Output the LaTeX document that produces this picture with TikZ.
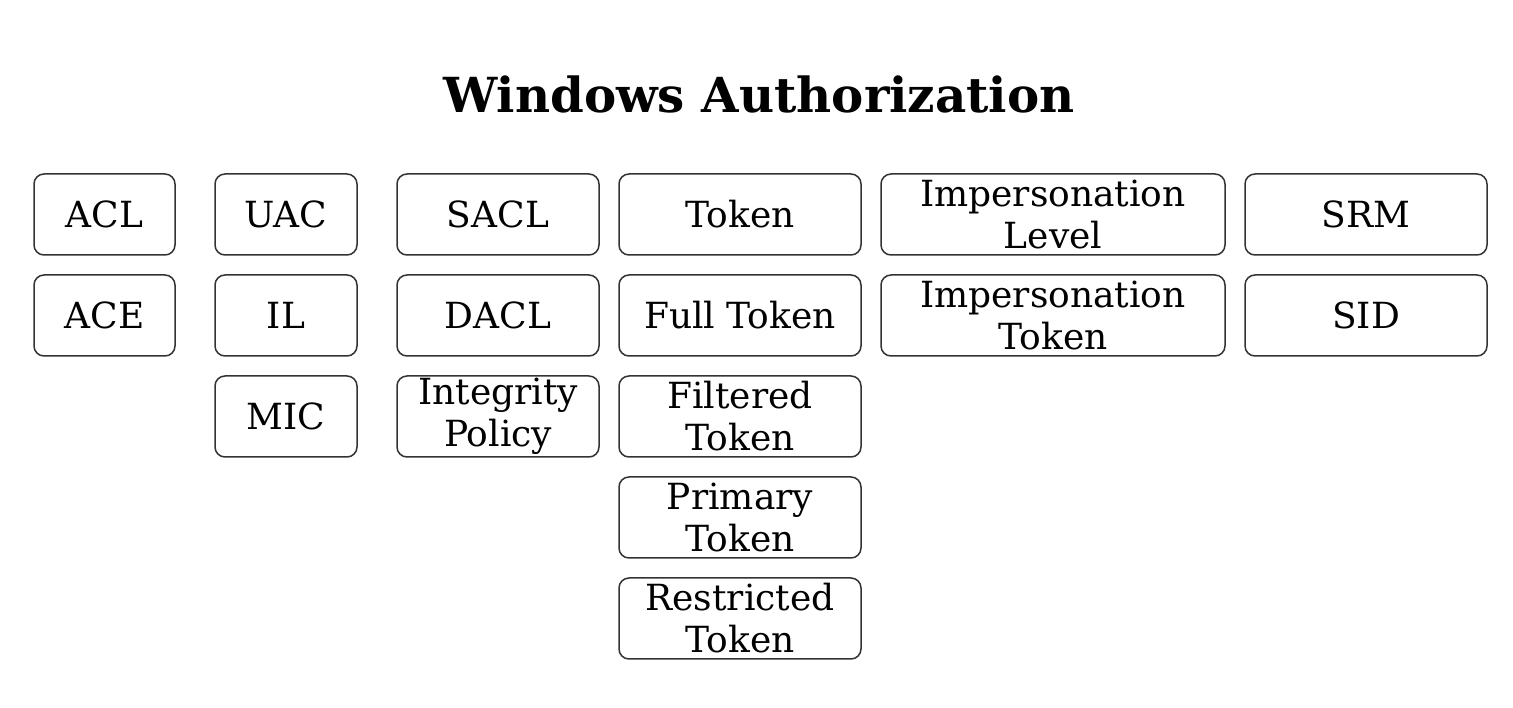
\documentclass[tikz,border=0pt]{standalone}
\usepackage{fontspec}
\setmainfont{DejaVu Serif}
\begin{document}
\begin{tikzpicture}[x=1pt,y=1pt,
  item/.style={draw=black!80, line width=1.5pt, rounded corners=10pt, inner sep=0pt,
    minimum height=81pt, align=center, font=\fontsize{36}{42}\selectfont},
  ttl/.style={font=\fontsize{48.3}{56}\selectfont\bfseries}]
\useasboundingbox (0,0) rectangle (1513,707);
\node[ttl] (title) at (759,613) {Windows Authorization};
% column 1
\node[item, minimum width=141pt] (acl) at (104.5,492.5) {ACL};
\node[item, minimum width=141pt] (ace) at (104.5,391.5) {ACE};
% column 2
\node[item, minimum width=142pt] (uac) at (286,492.5) {UAC};
\node[item, minimum width=142pt] (il) at (286,391.5) {IL};
\node[item, minimum width=142pt] (mic) at (286,290.5) {MIC};
% column 3
\node[item, minimum width=202pt] (sacl) at (498,492.5) {SACL};
\node[item, minimum width=202pt] (dacl) at (498,391.5) {DACL};
\node[item, minimum width=202pt] (ip) at (498,290.5) {Integrity\\Policy};
% column 4
\node[item, minimum width=242pt] (token) at (740,492.5) {Token};
\node[item, minimum width=242pt] (full) at (740,391.5) {Full Token};
\node[item, minimum width=242pt] (filt) at (740,290.5) {Filtered\\Token};
\node[item, minimum width=242pt] (prim) at (740,189.5) {Primary\\Token};
\node[item, minimum width=242pt] (restr) at (740,88.5) {Restricted\\Token};
% column 5
\node[item, minimum width=344pt] (implev) at (1053,492.5) {Impersonation\\Level};
\node[item, minimum width=344pt] (imptok) at (1053,391.5) {Impersonation\\Token};
% column 6
\node[item, minimum width=242pt] (srm) at (1366,492.5) {SRM};
\node[item, minimum width=242pt] (sid) at (1366,391.5) {SID};
\end{tikzpicture}
\end{document}
